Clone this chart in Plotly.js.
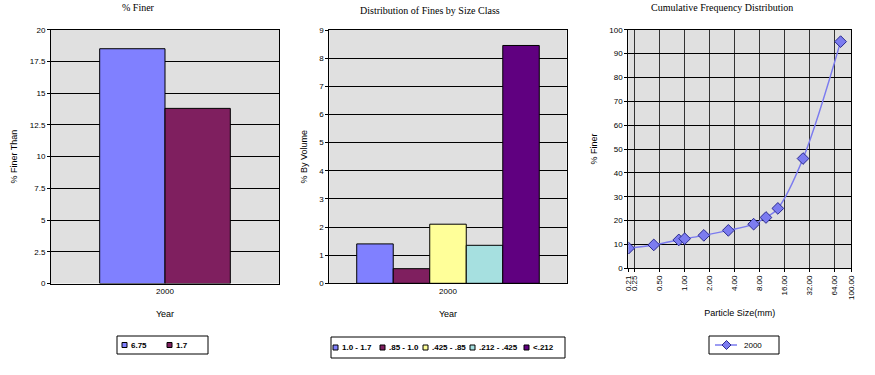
<!DOCTYPE html>
<html>
<head>
<meta charset="utf-8">
<script src="https://cdn.plot.ly/plotly-3.0.1.min.js"></script>
<style>html,body{margin:0;padding:0;background:#fff;}#chart{width:875px;height:375px;}</style>
</head>
<body>
<div id="chart"></div>
<script>
// ---- Data ----
const finerYear = ['2000'];
const finerSeriesNames = ['6.75', '1.7'];
const finerValues = [18.5, 13.8];

const sizeClassYear = ['2000'];
const sizeClassNames = ['1.0 - 1.7', '.85 - 1.0', '.425 - .85', '.212 - .425', '<.212'];
const sizeClassValues = [1.4, 0.52, 2.1, 1.35, 8.45];

const cumulativeSeriesName = '2000';
const particleSizes = [0.212, 0.425, 0.85, 1.0, 1.7, 3.35, 6.75, 9.5, 13.2, 26.5, 75];
const percentFiner = [8.45, 9.8, 11.9, 12.4, 13.8, 15.9, 18.5, 21.3, 25.1, 46.0, 95.0];
const sizeTickValues = [0.21, 0.25, 0.5, 1, 2, 4, 8, 16, 32, 64, 100];
const sizeTickLabels = ['0.21', '0.25', '0.50', '1.00', '2.00', '4.00', '8.00', '16.00', '32.00', '64.00', '100.00'];

// ---- Styles ----
const finerColors = ['#8080FF', '#7F1F5F'];
const sizeClassColors = ['#8080FF', '#7F1F5F', '#FFFF99', '#A6E0E0', '#600080'];
const lineColor = '#7B7BEF', diamondFill = '#7C7CF0', diamondEdge = '#2A2A90';
const W = 875, H = 375;
const px = v => v / W;
const py = v => 1 - v / H;
const sans = 'Liberation Sans, Arial, sans-serif';
const serif = 'Liberation Serif, Times New Roman, serif';
const tickFont = {family: sans, size: 8, color: '#000'};
const axTitleFont = {family: sans, size: 9, color: '#000'};

const traces = [];
finerSeriesNames.forEach((n, i) => traces.push({
  type: 'bar', name: n, x: finerYear, y: [finerValues[i]], xaxis: 'x', yaxis: 'y',
  marker: {color: finerColors[i], line: {color: '#000', width: 1}}, showlegend: false
}));
sizeClassNames.forEach((n, i) => traces.push({
  type: 'bar', name: n, x: sizeClassYear, y: [sizeClassValues[i]], xaxis: 'x2', yaxis: 'y2',
  marker: {color: sizeClassColors[i], line: {color: '#000', width: 1}}, showlegend: false
}));
traces.push({
  type: 'scatter', mode: 'lines+markers', name: cumulativeSeriesName,
  x: particleSizes, y: percentFiner, xaxis: 'x3', yaxis: 'y3',
  line: {color: lineColor, width: 1.5, shape: 'spline', smoothing: 1},
  marker: {symbol: 'diamond', size: 9, color: diamondFill, line: {color: diamondEdge, width: 1}},
  showlegend: false
});

const baseY = {
  showgrid: true, gridcolor: '#000', gridwidth: 1, zeroline: false,
  showline: true, linecolor: '#000', linewidth: 1, mirror: true,
  ticks: 'outside', ticklen: 3, tickcolor: '#000', tickfont: tickFont, fixedrange: true
};
const baseXcat = {
  type: 'category', showgrid: false, zeroline: false, showline: true, linecolor: '#000',
  linewidth: 1, mirror: true, ticks: '', tickfont: tickFont, fixedrange: true
};

const shapes = [];
const annotations = [];
function title(text, x, y) {
  annotations.push({text, x: px(x), y: py(y), xref: 'paper', yref: 'paper', showarrow: false,
    xanchor: 'center', yanchor: 'middle', font: {family: serif, size: 10, color: '#000'}});
}
title('% Finer', 138, 8);
title('Distribution of Fines by Size Class', 430, 11);
title('Cumulative Frequency Distribution', 722, 8);

// compact legends (Excel style)
function legendBox(x0, y0, x1, y1) {
  shapes.push({type: 'rect', xref: 'paper', yref: 'paper', x0: px(x0), x1: px(x1), y0: py(y0), y1: py(y1),
    line: {color: '#000', width: 1}, fillcolor: '#fff', layer: 'above'});
}
function boxLegend(x0, y0, x1, y1, itemX, names, colors) {
  legendBox(x0, y0, x1, y1);
  const cy = (y0 + y1) / 2;
  names.forEach((n, i) => {
    const sx = itemX[i];
    shapes.push({type: 'rect', xref: 'paper', yref: 'paper', x0: px(sx), x1: px(sx + 5), y0: py(cy + 2.5), y1: py(cy - 2.5),
      line: {color: '#000', width: 1}, fillcolor: colors[i], layer: 'above'});
    annotations.push({text: '<b>' + n + '</b>', x: px(sx + 7), y: py(cy), xref: 'paper', yref: 'paper', showarrow: false,
      xanchor: 'left', yanchor: 'middle', font: {family: sans, size: 8, color: '#000'}});
  });
}
boxLegend(117, 336, 208, 354, [122, 167], finerSeriesNames, finerColors);
boxLegend(331, 337, 565, 358, [333, 380, 423, 470, 524], sizeClassNames, sizeClassColors);

// line legend for cumulative chart
(function () {
  const x0 = 709, y0 = 336, x1 = 779, y1 = 354, cy = (y0 + y1) / 2, mx = 726.5, r = 4.5;
  legendBox(x0, y0, x1, y1);
  shapes.push({type: 'line', xref: 'paper', yref: 'paper', x0: px(715), x1: px(737), y0: py(cy), y1: py(cy),
    line: {color: lineColor, width: 1.5}, layer: 'above'});
  shapes.push({type: 'path', xref: 'paper', yref: 'paper', layer: 'above',
    path: `M${px(mx)},${py(cy - r)} L${px(mx + r)},${py(cy)} L${px(mx)},${py(cy + r)} L${px(mx - r)},${py(cy)} Z`,
    fillcolor: diamondFill, line: {color: diamondEdge, width: 1}});
  annotations.push({text: cumulativeSeriesName, x: px(742), y: py(cy), xref: 'paper', yref: 'paper', showarrow: false,
    xanchor: 'left', yanchor: 'middle', font: {family: sans, size: 8, color: '#000'}});
})();

const layout = {
  width: W, height: H, autosize: false,
  margin: {l: 0, r: 0, t: 0, b: 0, pad: 0},
  paper_bgcolor: '#fff', plot_bgcolor: '#E0E0E0',
  barmode: 'group', bargap: 0.231, bargroupgap: 0,
  font: {family: sans, size: 8, color: '#000'},
  showlegend: false,
  xaxis: Object.assign({}, baseXcat, {domain: [px(51), px(279)], range: [-0.671, 0.671], anchor: 'y',
    title: {text: 'Year', font: axTitleFont, standoff: 15}}),
  yaxis: Object.assign({}, baseY, {domain: [py(283.5), py(29.7)], range: [0, 20], dtick: 2.5, anchor: 'x',
    title: {text: '% Finer Than', font: axTitleFont, standoff: 10}}),
  xaxis2: Object.assign({}, baseXcat, {domain: [px(329.3), px(566.7)], range: [-0.5, 0.5], anchor: 'y2',
    title: {text: 'Year', font: axTitleFont, standoff: 15}}),
  yaxis2: Object.assign({}, baseY, {domain: [py(283.3), py(30)], range: [0, 9], dtick: 1, anchor: 'x2',
    title: {text: '% By Volume', font: axTitleFont, standoff: 10}}),
  xaxis3: {type: 'log', domain: [px(628.3), px(851)], range: [Math.log10(0.21), 2], anchor: 'y3',
    tickmode: 'array', tickvals: sizeTickValues, ticktext: sizeTickLabels, tickangle: -90,
    showgrid: true, gridcolor: '#333', gridwidth: 1, zeroline: false, showline: true, linecolor: '#000', mirror: true,
    ticks: 'outside', ticklen: 3, tickcolor: '#000', tickfont: tickFont, fixedrange: true,
    title: {text: 'Particle Size(mm)', font: axTitleFont, standoff: 10}},
  yaxis3: Object.assign({}, baseY, {domain: [py(268.3), py(29.7)], range: [0, 100], dtick: 10, anchor: 'x3',
    title: {text: '% Finer', font: axTitleFont, standoff: 10}}),
  shapes, annotations
};

Plotly.newPlot('chart', traces, layout, {staticPlot: true, displayModeBar: false});
</script>
</body>
</html>
